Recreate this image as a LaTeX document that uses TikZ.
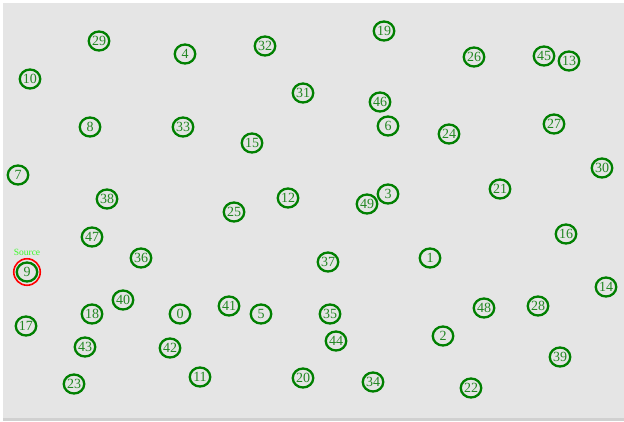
\documentclass[tikz,border=0pt]{standalone}
\usepackage{fontspec}
\setmainfont{Liberation Serif}
\usepackage{tikz}
\usetikzlibrary{positioning, shapes.geometric}
\definecolor{NodeGreen}{RGB}{0,128,0}
\definecolor{NumGreen}{RGB}{35,135,35}
\definecolor{PanelGray}{RGB}{229,229,229}
\definecolor{EdgeGray}{RGB}{208,208,208}
\definecolor{SrcLime}{RGB}{60,250,40}

\begin{document}
\begin{tikzpicture}[x=1pt, y=-1pt,
	v/.style={ellipse, draw=NodeGreen, line width=2.3pt, minimum width=20.5pt, minimum height=19pt,
		inner sep=0pt, text=NumGreen, font=\fontsize{14}{14}\selectfont},
	ring/.style={circle, draw=red, line width=1.6pt, minimum size=26.5pt, inner sep=0pt},
	srclabel/.style={text=SrcLime, font=\fontsize{9.5}{9.5}\selectfont, inner sep=0pt}]
	% panel
	\useasboundingbox (0,0) rectangle (624,421);
	\fill[white] (0,0) rectangle (624,421);
	\fill[PanelGray] (3,3) rectangle (624,418);
	\fill[EdgeGray] (3,418) rectangle (624,421);
	% nodes, top to bottom
	\node[v] (n19) at (384,31) {19};
	\node[v] (n29) at (99,41) {29};
	\node[v] (n32) at (265,46) {32};
	\node[v] (n4) at (185,54) {4};
	\node[v] (n45) at (544,56) {45};
	\node[v] (n26) at (474,57) {26};
	\node[v] (n13) at (569,61) {13};
	\node[v] (n10) at (30,79) {10};
	\node[v] (n31) at (303,93) {31};
	\node[v] (n46) at (380,102) {46};
	\node[v] (n27) at (554,124) {27};
	\node[v] (n6) at (388,126) {6};
	\node[v] (n33) at (183,127) {33};
	\node[v] (n8) at (90,127) {8};
	\node[v] (n24) at (449,134) {24};
	\node[v] (n15) at (252,143) {15};
	\node[v] (n30) at (602,168) {30};
	\node[v] (n7) at (18,175) {7};
	\node[v] (n21) at (500,189) {21};
	\node[v] (n3) at (388,194) {3};
	\node[v] (n12) at (288,198) {12};
	\node[v] (n38) at (107,199) {38};
	\node[v] (n49) at (367,204) {49};
	\node[v] (n25) at (234,212) {25};
	\node[v] (n16) at (566,234) {16};
	\node[v] (n47) at (92,237) {47};
	\node[v] (n36) at (141,258) {36};
	\node[v] (n1) at (430,258) {1};
	\node[v] (n37) at (328,262) {37};
	\node[v] (n9) at (27,272) {9};
	\node[ring] (r9) at (n9) {};
	\node[srclabel, above=2.5pt of r9] (src) {Source};
	\node[v] (n14) at (606,287) {14};
	\node[v] (n40) at (123,300) {40};
	\node[v] (n41) at (229,306) {41};
	\node[v] (n28) at (538,306) {28};
	\node[v] (n48) at (484,308) {48};
	\node[v] (n0) at (180,314) {0};
	\node[v] (n5) at (261,314) {5};
	\node[v] (n18) at (92,314) {18};
	\node[v] (n35) at (330,314) {35};
	\node[v] (n17) at (26,326) {17};
	\node[v] (n2) at (443,336) {2};
	\node[v] (n44) at (336,341) {44};
	\node[v] (n43) at (85,347) {43};
	\node[v] (n42) at (170,348) {42};
	\node[v] (n39) at (560,357) {39};
	\node[v] (n11) at (200,377) {11};
	\node[v] (n20) at (303,378) {20};
	\node[v] (n34) at (373,382) {34};
	\node[v] (n23) at (74,384) {23};
	\node[v] (n22) at (471,388) {22};
\end{tikzpicture}
\end{document}
